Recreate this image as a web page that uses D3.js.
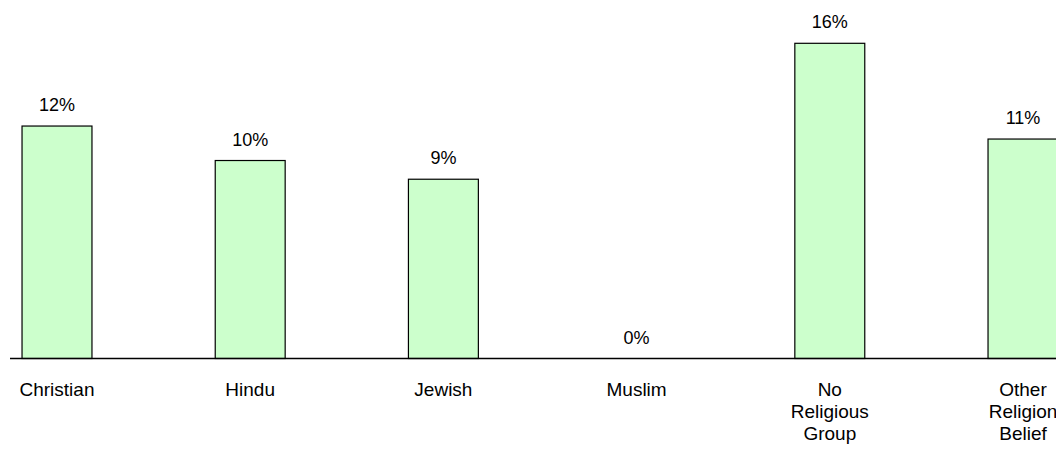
<!DOCTYPE html>
<html>
<head>
<meta charset="utf-8">
<script src="https://cdn.jsdelivr.net/npm/d3@7"></script>
<style>
  html, body { margin: 0; padding: 0; background: #fff; }
  svg { display: block; font-family: Arial, "Liberation Sans", sans-serif; }
</style>
</head>
<body>
<svg id="chart" width="1056" height="452"></svg>
<script>
// Share of respondents by religious group
const categories = ["Christian", "Hindu", "Jewish", "Muslim", "No Religious Group", "Other Religion Belief"];
const labelLines = [["Christian"], ["Hindu"], ["Jewish"], ["Muslim"], ["No", "Religious", "Group"], ["Other", "Religion", "Belief"]];
const values = [0.118, 0.1005, 0.091, 0.0, 0.160, 0.1114];

const svg = d3.select("#chart");
const baseline = 358.5;

const x = d3.scaleBand()
  .domain(categories)
  .range([-39.6, 1119.6])
  .paddingInner(0.638)
  .paddingOuter(0.319);

const y = d3.scaleLinear()
  .domain([0, 0.18])
  .range([baseline, baseline - 354.6]);

const fmt = d3.format(".0%");

// bars
svg.append("g")
  .selectAll("rect")
  .data(values)
  .join("rect")
  .attr("x", (d, i) => x(categories[i]))
  .attr("y", d => y(d))
  .attr("width", x.bandwidth())
  .attr("height", d => baseline - y(d))
  .attr("fill", "#ccffcc")
  .attr("stroke", "#000")
  .attr("stroke-width", 1.2)
  .attr("display", d => d > 0 ? null : "none");

// category axis line
svg.append("line")
  .attr("x1", 10).attr("x2", 1056)
  .attr("y1", baseline).attr("y2", baseline)
  .attr("stroke", "#000").attr("stroke-width", 1.3);

// value labels
svg.append("g")
  .selectAll("text")
  .data(values)
  .join("text")
  .attr("x", (d, i) => x(categories[i]) + x.bandwidth() / 2)
  .attr("y", d => y(d) - 15)
  .attr("text-anchor", "middle")
  .attr("font-size", 18)
  .attr("fill", "#000")
  .text(d => fmt(d));

// category labels
const cat = svg.append("g")
  .selectAll("text")
  .data(labelLines)
  .join("text")
  .attr("x", (d, i) => x(categories[i]) + x.bandwidth() / 2)
  .attr("y", 396)
  .attr("text-anchor", "middle")
  .attr("font-size", 19)
  .attr("fill", "#000");

cat.selectAll("tspan")
  .data((d, i) => d.map(t => ({ t, i })))
  .join("tspan")
  .attr("x", d => x(categories[d.i]) + x.bandwidth() / 2)
  .attr("dy", (d, j) => j === 0 ? 0 : 22)
  .text(d => d.t);
</script>
</body>
</html>
